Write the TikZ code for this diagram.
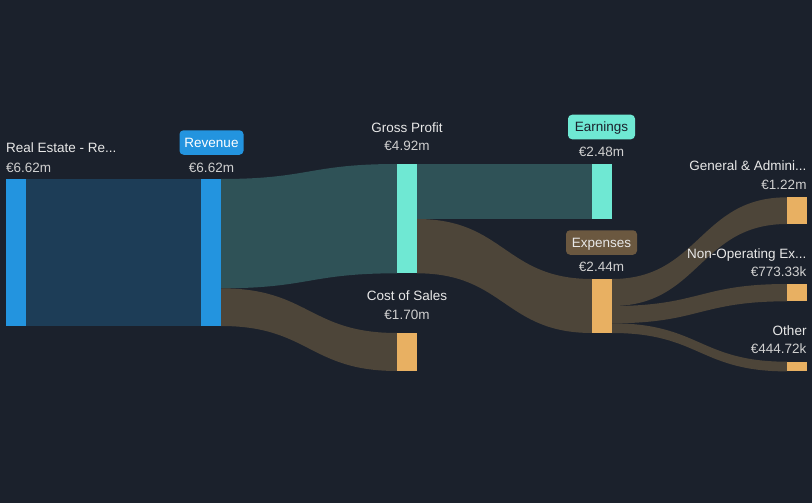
\documentclass[tikz,border=0pt]{standalone}
\usepackage{fontspec}
\setmainfont{Liberation Sans}
\definecolor{bg}{HTML}{1B212C}
\definecolor{bluebar}{HTML}{2394DF}
\definecolor{blueflow}{HTML}{1D3D57}
\definecolor{tealbar}{HTML}{6FE8D3}
\definecolor{tealflow}{HTML}{2F5257}
\definecolor{orangebar}{HTML}{E8B062}
\definecolor{brownflow}{HTML}{4D4539}
\definecolor{brownbox}{HTML}{6B5840}
\definecolor{labeltxt}{HTML}{E8E8E8}
\definecolor{valtxt}{HTML}{D0D0D0}
\newcommand\sankeyflow[7]{%
  \pgfmathsetmacro\xm{(#2+#5)/2}%
  \fill[#1] (#2,#3) .. controls (\xm,#3) and (\xm,#6) .. (#5,#6)
    -- (#5,#7) .. controls (\xm,#7) and (\xm,#4) .. (#2,#4) -- cycle;}
\tikzset{
  lbl/.style={text=labeltxt, font=\fontsize{13.5}{16}\selectfont, inner sep=0pt, anchor=base},
  val/.style={text=valtxt, font=\fontsize{13.5}{16}\selectfont, inner sep=0pt, anchor=base},
  tag/.style={rounded corners=4pt, minimum height=24.5pt, inner xsep=5pt, anchor=center, font=\fontsize{13.5}{16}\selectfont},
}
\begin{document}
\begin{tikzpicture}[x=1pt,y=-1pt]
\useasboundingbox (0,0) rectangle (812,503);
\fill[bg] (0,0) rectangle (812,503);
% flows
\fill[blueflow] (26,179) rectangle (201,326);
\sankeyflow{tealflow}{221}{179}{288.3}{397}{164}{273.3}
\sankeyflow{brownflow}{221}{288.3}{326}{397}{333}{371}
\fill[tealflow] (417,164) rectangle (592,219);
\sankeyflow{brownflow}{417}{219}{273.3}{592}{279}{333}
\sankeyflow{brownflow}{612}{279}{306}{787}{197.3}{224}
\sankeyflow{brownflow}{612}{306}{323.3}{787}{284}{301.3}
\sankeyflow{brownflow}{612}{323.3}{333}{787}{361.7}{371.4}
% bars
\fill[bluebar] (6,179) rectangle (26,326);
\fill[bluebar] (201,179) rectangle (221,326);
\fill[tealbar] (397,164) rectangle (417,273.3);
\fill[orangebar] (397,333) rectangle (417,371);
\fill[tealbar] (592,164) rectangle (612,219);
\fill[orangebar] (592,279) rectangle (612,333);
\fill[orangebar] (787,197.3) rectangle (807,224);
\fill[orangebar] (787,284) rectangle (807,301.3);
\fill[orangebar] (787,361.7) rectangle (807,371.4);
% labels
\node[lbl, anchor=base west] (reL) at (6,153) {Real Estate - Re...};
\node[val, anchor=base west] (reV) at (6,172) {€6.62m};
\node[tag, fill=bluebar, text=white, minimum width=64pt] (revT) at (211.5,142.5) {};
\node[lbl, text=white] (revL) at (211.5,147.3) {Revenue};
\node[val] (revV) at (211.5,172) {€6.62m};
\node[lbl] (gpL) at (407,132) {Gross Profit};
\node[val] (gpV) at (407,150.7) {€4.92m};
\node[tag, fill=tealbar, minimum width=67pt] (earnT) at (601.5,127) {};
\node[lbl, text=bg] (earnL) at (601.5,131.7) {Earnings};
\node[val] (earnV) at (601.5,156.7) {€2.48m};
\node[tag, fill=brownbox, minimum width=71pt] (expT) at (601.5,242.5) {};
\node[lbl] (expL) at (601.5,247.3) {Expenses};
\node[val] (expV) at (601.5,271.7) {€2.44m};
\node[lbl] (cosL) at (407,300.7) {Cost of Sales};
\node[val] (cosV) at (407,319.3) {€1.70m};
\node[lbl, anchor=base east] (gaL) at (806.7,170.7) {General \& Admini...};
\node[val, anchor=base east] (gaV) at (806.7,189.3) {€1.22m};
\node[lbl, anchor=base east] (noL) at (806.7,258.3) {Non-Operating Ex...};
\node[val, anchor=base east] (noV) at (806.7,276.7) {€773.33k};
\node[lbl, anchor=base east] (otL) at (806.7,335) {Other};
\node[val, anchor=base east] (otV) at (806.7,353.3) {€444.72k};
\end{tikzpicture}
\end{document}
